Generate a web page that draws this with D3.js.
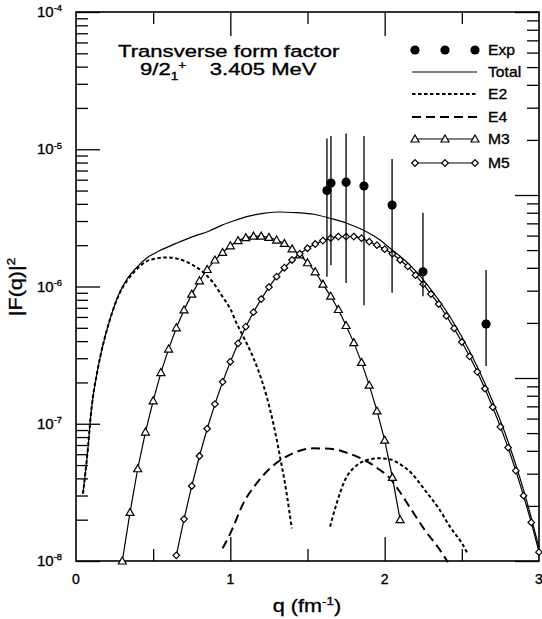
<!DOCTYPE html>
<html><head><meta charset="utf-8">
<script src="https://cdn.jsdelivr.net/npm/d3@7"></script>
<style>
body{margin:0;background:#fff;}
text{font-family:"Liberation Sans",Arial,Helvetica,sans-serif;fill:#000;stroke:#000;stroke-width:0.35px;}
</style>
</head><body>
<svg id="c" width="542" height="619"></svg>
<script>
// ---------------- data ----------------
const totalQ = [0.045,0.076,0.097,0.14,0.162,0.194,0.233,0.28,0.335,0.389,0.454,0.54,0.648,0.756,0.864,0.95,1.037,1.106,1.214,1.32,1.43,1.54,1.646,1.754,1.86,1.97,2.035,2.1,2.2,2.3,2.4,2.5,2.6,2.7,2.8,2.9,3.0];
const totalV = [3.1e-8,6.4e-8,1.19e-7,2.47e-7,3.26e-7,4.56e-7,6.4e-7,8.9e-7,1.15e-6,1.36e-6,1.6e-6,1.82e-6,2.06e-6,2.31e-6,2.54e-6,2.81e-6,3.05e-6,3.23e-6,3.41e-6,3.49e-6,3.45e-6,3.36e-6,3.14e-6,2.89e-6,2.58e-6,2.18e-6,1.90e-6,1.66e-6,1.30e-6,9.5e-7,6.6e-7,4.3e-7,2.6e-7,1.45e-7,7.4e-8,3.3e-8,1.25e-8];

const e2aQ = [0.045,0.076,0.097,0.14,0.162,0.194,0.233,0.28,0.335,0.378,0.454,0.52,0.594,0.67,0.745,0.82,0.885,0.95,1.005,1.037,1.063,1.127,1.18,1.236,1.279,1.322,1.365,1.398];
const e2aV = [3.1e-8,6.4e-8,1.19e-7,2.47e-7,3.26e-7,4.56e-7,6.4e-7,8.8e-7,1.12e-6,1.28e-6,1.52e-6,1.60e-6,1.63e-6,1.58e-6,1.46e-6,1.28e-6,1.08e-6,8.4e-7,6.7e-7,5.5e-7,4.8e-7,3.44e-7,2.47e-7,1.57e-7,1.0e-7,5.75e-8,3.1e-8,1.73e-8];
const e2bQ = [1.646,1.689,1.743,1.808,1.884,1.959,2.035,2.09,2.175,2.26,2.35,2.43,2.5,2.54];
const e2bV = [1.78e-8,2.63e-8,3.89e-8,4.86e-8,5.44e-8,5.6e-8,5.5e-8,5.15e-8,4.35e-8,3.29e-8,2.42e-8,1.73e-8,1.35e-8,1.12e-8];

const e4Q = [0.95,1.0,1.084,1.17,1.257,1.343,1.43,1.538,1.646,1.754,1.86,1.97,2.035,2.09,2.175,2.26,2.35,2.41];
const e4V = [1.24e-8,1.59e-8,2.63e-8,3.68e-8,4.73e-8,5.6e-8,6.25e-8,6.62e-8,6.58e-8,6.15e-8,5.5e-8,4.6e-8,4.0e-8,3.29e-8,2.35e-8,1.68e-8,1.24e-8,9.8e-9];

const m3Q = [0.30,0.35,0.40,0.45,0.50,0.55,0.60,0.65,0.70,0.75,0.80,0.85,0.90,0.95,1.00,1.05,1.10,1.15,1.20,1.25,1.30,1.35,1.40,1.45,1.50,1.55,1.60,1.65,1.70,1.75,1.80,1.85,1.90,1.95,2.00,2.05,2.10];
const m3V = [1.0e-8,2.26e-8,4.7e-8,8.7e-8,1.47e-7,2.36e-7,3.5e-7,5.0e-7,6.75e-7,8.8e-7,1.1e-6,1.33e-6,1.56e-6,1.77e-6,1.98e-6,2.16e-6,2.27e-6,2.33e-6,2.33e-6,2.28e-6,2.18e-6,2.06e-6,1.88e-6,1.70e-6,1.49e-6,1.28e-6,1.04e-6,8.5e-7,6.8e-7,5.2e-7,3.9e-7,2.8e-7,1.91e-7,1.24e-7,7.6e-8,4.07e-8,2.0e-8];

const m5Q = [0.65,0.70,0.75,0.80,0.85,0.90,0.95,1.00,1.05,1.10,1.15,1.20,1.25,1.30,1.35,1.40,1.45,1.50,1.55,1.60,1.65,1.70,1.75,1.80,1.85,1.90,1.95,2.00,2.05,2.10,2.15,2.20,2.25,2.30,2.35,2.40,2.45,2.50,2.55,2.60,2.65,2.70,2.75,2.80,2.85,2.90,2.95,3.00];
const m5V = [1.1e-8,2.02e-8,3.52e-8,5.82e-8,9.2e-8,1.39e-7,2.02e-7,2.83e-7,3.85e-7,5.1e-7,6.5e-7,8.1e-7,9.9e-7,1.18e-6,1.37e-6,1.56e-6,1.73e-6,1.90e-6,2.04e-6,2.16e-6,2.25e-6,2.31e-6,2.31e-6,2.31e-6,2.25e-6,2.12e-6,2.0e-6,1.87e-6,1.73e-6,1.56e-6,1.40e-6,1.21e-6,1.04e-6,8.8e-7,7.45e-7,6.1e-7,4.95e-7,3.94e-7,3.1e-7,2.39e-7,1.80e-7,1.32e-7,9.5e-8,6.7e-8,4.55e-8,2.99e-8,1.91e-8,1.16e-8];

const expQ  = [1.626,1.652,1.75,1.866,2.048,2.248,2.657];
const expV  = [5.0e-6,5.67e-6,5.76e-6,5.4e-6,3.92e-6,1.28e-6,5.33e-7];
const expLo = [1.18e-6,1.43e-6,1.06e-6,7.3e-7,9.0e-7,8.5e-7,2.64e-7];
const expHi = [1.2e-5,1.25e-5,1.3e-5,1.25e-5,8.5e-6,3.45e-6,1.32e-6];

const yTickExp = ["-8","-7","-6","-5","-4"];
const yTickVal = [1e-8,1e-7,1e-6,1e-5,1e-4];
const xTickLabels = ["0","1","2","3"];
const xTickVal = [0,1,2,3];
const legendLabels = ["Exp","Total","E2","E4","M3","M5"];

// ---------------- layout ----------------
const svg = d3.select("#c");
const L=76, R=539, T=12, B=561;
const x = d3.scaleLinear().domain([0,3]).range([L,R]);
const y = d3.scaleLog().domain([1e-8,1e-4]).range([B,T]);
const yR = d3.scaleLog().domain([1,1000]).range([B,T]);

function stext(parent, px, py, sx, size, anchor, parts, rot){
  const g = parent.append("g").attr("transform",`translate(${px},${py})`+(rot?` rotate(${rot})`:"")+` scale(${sx},1)`);
  const t = g.append("text").attr("font-size",size).attr("text-anchor",anchor);
  let prevDy = 0;
  parts.forEach(p=>{
    const sp = t.append("tspan").text(p.t);
    let dy = 0;
    if(p.sup){ dy = -size*0.38; sp.attr("font-size",size*0.62); }
    else if(p.sub){ dy = size*0.3; sp.attr("font-size",size*0.62); }
    sp.attr("dy", dy - prevDy);
    if(p.dx) sp.attr("dx",p.dx);
    prevDy = dy;
  });
  return t;
}

// ---------------- axes ----------------
const majY = yTickVal;
const minY = [];
for(let d=0; d<4; d++) for(let k=2;k<=9;k++) minY.push(yTickVal[d]*k);
svg.append("g").attr("transform",`translate(${L},0)`)
  .call(d3.axisLeft(y).tickValues(majY).tickSizeInner(-24).tickSizeOuter(0).tickFormat(""))
  .call(g=>g.select(".domain").remove());
svg.append("g").attr("transform",`translate(${L},0)`)
  .call(d3.axisLeft(y).tickValues(minY).tickSizeInner(-12).tickSizeOuter(0).tickFormat(""))
  .call(g=>g.select(".domain").remove());
const minR=[];
[1,10,100].forEach(d=>{for(let k=2;k<=9;k++) minR.push(d*k);});
svg.append("g").attr("transform",`translate(${R},0)`)
  .call(d3.axisRight(yR).tickValues([1,10,100,1000]).tickSizeInner(-24).tickSizeOuter(0).tickFormat(""))
  .call(g=>g.select(".domain").remove());
svg.append("g").attr("transform",`translate(${R},0)`)
  .call(d3.axisRight(yR).tickValues(minR).tickSizeInner(-12).tickSizeOuter(0).tickFormat(""))
  .call(g=>g.select(".domain").remove());
[[B,d3.axisBottom],[T,d3.axisTop]].forEach(([pos,ax])=>{
  svg.append("g").attr("transform",`translate(0,${pos})`)
    .call(ax(x).tickValues([1,2]).tickSizeInner(-24).tickSizeOuter(0).tickFormat(""))
    .call(g=>g.select(".domain").remove());
  svg.append("g").attr("transform",`translate(0,${pos})`)
    .call(ax(x).tickValues([0.5,1.5,2.5]).tickSizeInner(-12).tickSizeOuter(0).tickFormat(""))
    .call(g=>g.select(".domain").remove());
});
svg.selectAll(".tick line").attr("stroke","#000").attr("stroke-width",1.3);
svg.append("rect").attr("x",L).attr("y",T).attr("width",R-L).attr("height",B-T)
  .attr("fill","none").attr("stroke","#000").attr("stroke-width",1.6);

yTickVal.forEach((v,i)=>{
  stext(svg, 62, y(v)+5, 1, 15, "end", [{t:"10"},{t:yTickExp[i],sup:true}]);
});
xTickVal.forEach((v,i)=>{
  stext(svg, x(v), 584, 1, 14, "middle", [{t:xTickLabels[i]}]);
});
stext(svg, 307, 612, 1.2, 18, "middle", [{t:"q (fm"},{t:"-1",sup:true},{t:")"}]);
stext(svg, 22, 287, 1.2, 18, "middle", [{t:"|F(q)|"},{t:"2",sup:true}], -90);

stext(svg, 118, 57, 1.3, 17, "start", [{t:"Transverse form factor"}]);
stext(svg, 140, 75, 1.3, 17, "start", [{t:"9/2"},{t:"1",sub:true},{t:"+",sup:true},{t:"3.405 MeV",dx:18}]);

// ---------------- curves ----------------
const line = d3.line().x(d=>x(d[0])).y(d=>y(d[1])).curve(d3.curveMonotoneX);
const lineLin = d3.line().x(d=>x(d[0])).y(d=>y(d[1]));
const zip=(a,b)=>a.map((q,i)=>[q,b[i]]);

svg.append("path").attr("d",line(zip(totalQ,totalV))).attr("fill","none").attr("stroke","#000").attr("stroke-width",1.2);
svg.append("path").attr("d",line(zip(e2aQ,e2aV))).attr("fill","none").attr("stroke","#000").attr("stroke-width",2).attr("stroke-dasharray","3.5,2.5");
svg.append("path").attr("d",line(zip(e2bQ,e2bV))).attr("fill","none").attr("stroke","#000").attr("stroke-width",2).attr("stroke-dasharray","3.5,2.5");
svg.append("path").attr("d",line(zip(e4Q,e4V))).attr("fill","none").attr("stroke","#000").attr("stroke-width",2).attr("stroke-dasharray","9,5");
svg.append("path").attr("d",lineLin(zip(m3Q,m3V))).attr("fill","none").attr("stroke","#000").attr("stroke-width",1.2);
svg.append("path").attr("d",lineLin(zip(m5Q,m5V))).attr("fill","none").attr("stroke","#000").attr("stroke-width",1.2);

const tri = "M0,-4L4,3L-4,3Z";
const dia = "M0,-3.3L3.3,0L0,3.3L-3.3,0Z";
svg.append("g").selectAll("path").data(zip(m3Q,m3V)).join("path")
  .attr("d",tri).attr("transform",d=>`translate(${x(d[0])},${y(d[1])})`)
  .attr("fill","#fff").attr("stroke","#000").attr("stroke-width",1.2);
svg.append("g").selectAll("path").data(zip(m5Q,m5V)).join("path")
  .attr("d",dia).attr("transform",d=>`translate(${x(d[0])},${y(d[1])})`)
  .attr("fill","#fff").attr("stroke","#000").attr("stroke-width",1.2);

const eg = svg.append("g");
expQ.forEach((q,i)=>{
  eg.append("line").attr("x1",x(q)).attr("x2",x(q)).attr("y1",y(expLo[i])).attr("y2",y(expHi[i]))
    .attr("stroke","#000").attr("stroke-width",1.3);
  eg.append("circle").attr("cx",x(q)).attr("cy",y(expV[i])).attr("r",4.6).attr("fill","#000");
});

// ---------------- legend ----------------
const lg = svg.append("g");
const rows = [50,72,94,117,139,163];
const mx = [415,445,475];
mx.forEach(xx=>lg.append("circle").attr("cx",xx).attr("cy",rows[0]).attr("r",4.6).attr("fill","#000"));
lg.append("line").attr("x1",412).attr("x2",477).attr("y1",rows[1]).attr("y2",rows[1]).attr("stroke","#000").attr("stroke-width",1.2);
lg.append("line").attr("x1",412).attr("x2",477).attr("y1",rows[2]).attr("y2",rows[2]).attr("stroke","#000").attr("stroke-width",2).attr("stroke-dasharray","3.5,2.5");
lg.append("line").attr("x1",412).attr("x2",477).attr("y1",rows[3]).attr("y2",rows[3]).attr("stroke","#000").attr("stroke-width",2).attr("stroke-dasharray","9,5");
lg.append("line").attr("x1",415).attr("x2",475).attr("y1",rows[4]).attr("y2",rows[4]).attr("stroke","#000").attr("stroke-width",1.2);
mx.forEach(xx=>lg.append("path").attr("d",tri).attr("transform",`translate(${xx},${rows[4]})`).attr("fill","#fff").attr("stroke","#000").attr("stroke-width",1.2));
lg.append("line").attr("x1",415).attr("x2",475).attr("y1",rows[5]).attr("y2",rows[5]).attr("stroke","#000").attr("stroke-width",1.2);
mx.forEach(xx=>lg.append("path").attr("d",dia).attr("transform",`translate(${xx},${rows[5]})`).attr("fill","#fff").attr("stroke","#000").attr("stroke-width",1.2));
legendLabels.forEach((s,i)=>stext(lg, 488, rows[i]+5, 1.12, 14, "start", [{t:s}]));
</script>
</body></html>
